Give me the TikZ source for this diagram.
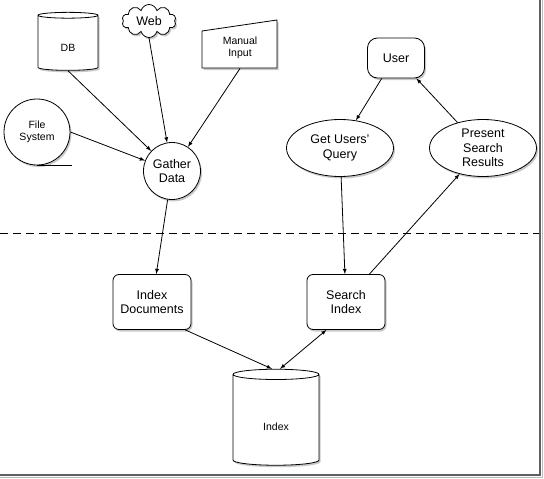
\documentclass[tikz,border=0pt]{standalone}
\usepackage{fontspec}
\setmainfont{Liberation Sans}
\usepackage{tikz}
\usetikzlibrary{shapes.geometric}
\usetikzlibrary{shapes.symbols}
\usetikzlibrary{shadows}
\usetikzlibrary{arrows}
\definecolor{shadowgray}{RGB}{120, 120, 120}
\definecolor{framegray}{RGB}{95, 95, 95}

\begin{document}
\begin{tikzpicture}[x=1pt, y=-1pt, line width=0.8pt,
        every node/.style={align=center, inner sep=0pt},
        shadowed/.style={drop shadow={shadow xshift=1.5pt, shadow yshift=-2pt, fill=shadowgray, opacity=0.4}},
        bigtext/.style={font=\fontsize{12.5}{14.5}\selectfont},
        smalltext/.style={font=\fontsize{10.5}{12.5}\selectfont},
        store/.style={cylinder, shape border rotate=90, aspect=0.4, draw, fill=white, shadowed, smalltext},
        process/.style={draw, fill=white, rounded corners=6pt, minimum width=78pt, minimum height=55pt, shadowed, bigtext},
        task/.style={ellipse, draw, fill=white, minimum width=107pt, minimum height=57pt, shadowed, bigtext},
        flow/.style={-latex},
        bothflow/.style={latex-latex}]
            \useasboundingbox (0, 0) rectangle (544, 479);
            % Sources
            \node[store, minimum width=60pt, minimum height=58pt, text height=17pt]  (db) at ( 68,  43) {DB};
            \node[cloud, cloud puffs=10, aspect=1.6, draw, fill=white, shadowed,
                  minimum width=54pt, minimum height=33pt, bigtext]               (web)    at (149,  21) {Web};
            \draw[fill=white, shadowed] (202, 31) -- (277, 20) -- (277, 68) -- (202, 68) -- cycle;
            \node[minimum width=75pt, minimum height=40pt, smalltext]             (minput) at (240,  48) {Manual\\Input};
            \node[circle, draw, fill=white, shadowed, minimum size=66pt, smalltext] (fsys) at ( 37, 132) {File\\System};
            \draw (fsys.south) -- ++(35, 0);
            \node[circle, draw, fill=white, shadowed, minimum size=57pt, bigtext] (gather) at (172, 171) {Gather\\Data};
            % User side
            \node[draw, fill=white, shadowed, rounded corners=10pt,
                  minimum width=57pt, minimum height=40pt, bigtext]               (user)    at (396,  58) {User};
            \node[task]                                                           (query)   at (340, 148) {Get Users'\\Query};
            \node[task]                                                           (present) at (483, 148) {Present\\Search\\Results};
            % Separator
            \draw[dash pattern=on 8pt off 5pt] (0, 233) -- (540, 233);
            % Indexing and searching
            \node[process]                                                        (idxdoc) at (152, 302) {Index\\Documents};
            \node[process]                                                        (search) at (346, 302) {Search\\Index};
            \node[store, minimum width=86pt, minimum height=96pt, text height=21pt] (index) at (276, 420) {Index};
            % Connectors
            \draw[flow] (db.south)   -- (gather);
            \draw[flow] (web.south)  -- (gather);
            \draw[flow] (minput.south) -- (gather);
            \draw[flow] (fsys.east)  -- (gather);
            \draw[flow] (gather)     -- (idxdoc);
            \draw[flow] (user.-125)  -- (query.60);
            \draw[flow] (query)      -- (search);
            \draw[flow] (search.50)  -- (present.228);
            \draw[flow] (present.135) -- (user.-45);
            \draw[flow] (idxdoc.-40) -- ([xshift=-4pt]index.north);
            \draw[bothflow] (search.-125) -- ([xshift=4pt]index.north);
            % Frame
            \draw[framegray, line width=2pt] (540, 0) -- (540, 475) -- (0, 475);
            \draw[shadowgray!50, line width=1pt] (542, 0) -- (542, 477) -- (0, 477);
        \end{tikzpicture}
\end{document}
